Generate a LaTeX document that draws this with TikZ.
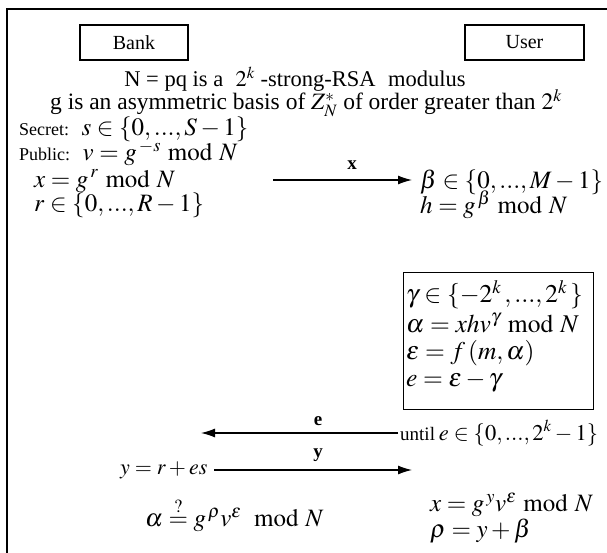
\documentclass[tikz,border=0pt]{standalone}
\usepackage{mathptmx}
\usepackage{amsmath}
\usepackage[no-math]{fontspec}
\setmainfont{Liberation Serif}
\usetikzlibrary{arrows.meta}
\tikzset{
  frameline/.style={line width=1.4pt},
  party/.style={draw, line width=1.2pt, minimum width=108pt, minimum height=35pt, inner sep=0pt, font=\fontsize{20}{23}\selectfont},
  txt/.style={inner sep=0pt, anchor=west, font=\fontsize{25}{28}\selectfont},
  ctxt/.style={inner sep=0pt, font=\fontsize{23.5}{26}\selectfont},
  boxtxt/.style={inner sep=0pt, anchor=west, font=\fontsize{25.5}{29}\selectfont},
  lbl/.style={inner sep=0pt, font=\bfseries\fontsize{19}{22}\selectfont},
  msg/.style={draw=black, line width=1.2pt, -{Latex[length=14pt,width=9pt]}},
}
\begin{document}
\begin{tikzpicture}[x=1pt,y=1pt]
\useasboundingbox (0,0) rectangle (607,-553);
% frame
\coordinate (ftr) at (607,-9);
\coordinate (ftl) at (7,-9);
\coordinate (fbl) at (7,-553);
\draw[frameline] (ftr) -- (ftl) -- (fbl);
% parties
\node[party] (bank) at (134,-42.5) {Bank};
\node[party, minimum width=119pt] (user) at (524.5,-42.5) {User};
% setup
\node[ctxt, font=\fontsize{22.5}{26}\selectfont] (setup1) at (295,-79) {N = pq is a\hspace{0.3em}\ $2^{k}$ -strong-RSA\hspace{0.3em}\ modulus};
\node[ctxt] (setup2) at (306,-103) {g is an asymmetric basis of $Z_{N}^{\raisebox{0pt}[0pt][0pt]{$\scriptstyle *$}}$ of order greater than $2^{k}$};
\node[txt] (secret) at (19,-129) {{\fontsize{18}{20}\selectfont Secret:}\ \ $s\in\{0,...,S-1\}$};
\node[txt] (public) at (19,-153) {{\fontsize{18}{20}\selectfont Public:}\ \ $v=g^{\,-s}\bmod N$};
% commitment
\node[txt] (xcom) at (34,-181) {$x=g^{\,r}\bmod N$};
\node[txt] (rsel) at (34,-205) {$r\in\{0,...,R-1\}$};
\node[txt] (bsel) at (420,-182) {$\beta\in\{0,...,M-1\}$};
\node[txt] (hval) at (420,-205) {$h=g^{\,\beta}\bmod N$};
\coordinate (xs) at (273,-180);
\coordinate (xe) at (412,-180);
\draw[msg] (xs) -- (xe);
\node[lbl] (xl) at (352,-165) {x};
% user box
\node[draw, line width=1.2pt, anchor=north west, minimum width=190pt, minimum height=137pt, inner sep=0pt] (ubox) at (403,-272) {};
\node[boxtxt] (gsel) at (406,-295) {$\gamma\in\{-2^{k}\,,...,2^{k}\,\}$};
\node[boxtxt] (aval) at (406,-323) {$\alpha=xhv^{\gamma}\bmod N$};
\node[boxtxt] (epsv) at (406,-353) {$\varepsilon=f\,(m,\alpha)$};
\node[boxtxt] (eval) at (406,-382) {$e=\varepsilon-\gamma$};
% challenge
\coordinate (es) at (398,-433);
\coordinate (ee) at (201,-433);
\draw[msg] (es) -- (ee);
\node[lbl] (el) at (318,-421) {e};
\node[txt, font=\fontsize{22.5}{26}\selectfont] (until) at (400,-433) {{\fontsize{19}{22}\selectfont until}\,$e\in\{0,...,2^{k}-1\}$};
% response
\node[txt, font=\fontsize{22}{26}\selectfont] (yval) at (120,-470) {$y=r+es$};
\coordinate (ys) at (214,-470);
\coordinate (ye) at (412,-470);
\draw[msg] (ys) -- (ye);
\node[lbl] (yl) at (318,-455) {y};
\node[txt] (check) at (145,-515) {$\alpha\overset{?}{=}g^{\,\rho}v^{\varepsilon}\;\bmod N$};
\node[txt] (xver) at (430,-505) {$x=g^{\,y}v^{\varepsilon}\bmod N$};
\node[txt] (rho) at (430,-531) {$\rho=y+\beta$};
\end{tikzpicture}
\end{document}
